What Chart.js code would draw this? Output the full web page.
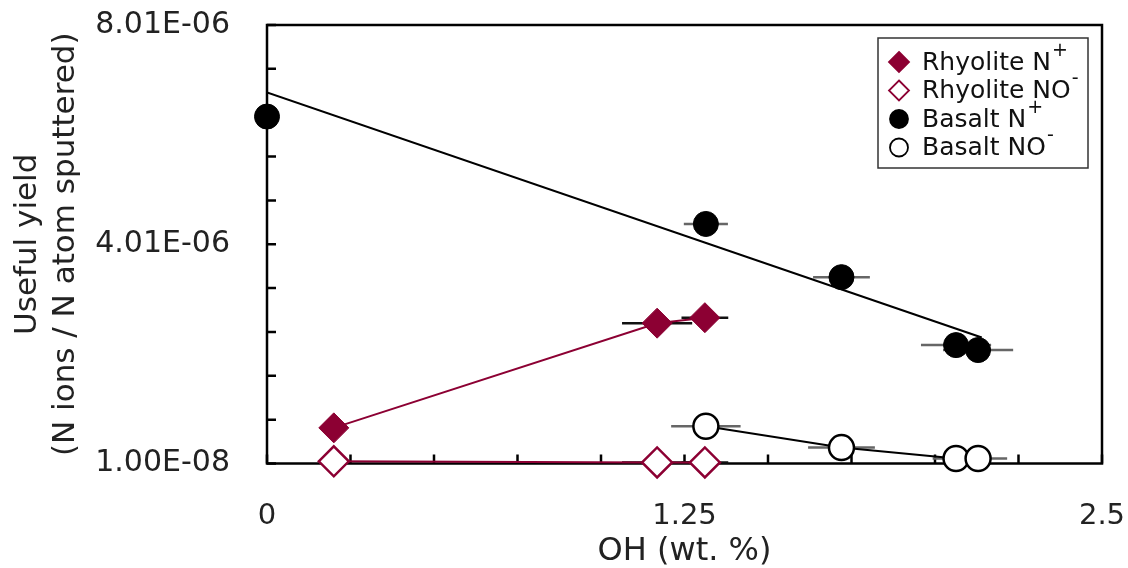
<!DOCTYPE html>
<html>
<head>
<meta charset="utf-8">
<script src="https://cdn.jsdelivr.net/npm/chart.js@4"></script>
<style>
  html, body { margin: 0; padding: 0; background: #fff; }
  #wrap { width: 1128px; height: 568px; }
</style>
</head>
<body>
<div id="wrap"><canvas id="chart"></canvas></div>
<script>
// OH (wt. %) and useful yield
const rhyoliteX = [0.2, 1.168, 1.311];
const rhyoliteXErr = [0, 0.105, 0.07];
const rhyoliteNplus = [0.66e-6, 2.57e-6, 2.67e-6];
const rhyoliteNOminus = [0.05e-6, 0.03e-6, 0.03e-6];

const basaltNplusX = [0, 1.314, 1.72, 2.063, 2.129];
const basaltNplusXErr = [0, 0.066, 0.085, 0.105, 0.105];
const basaltNplus = [6.34e-6, 4.38e-6, 3.41e-6, 2.17e-6, 2.08e-6];

const basaltNOminusX = [1.314, 1.72, 2.063, 2.129];
const basaltNOminusXErr = [0.104, 0.1, 0.07, 0.087];
const basaltNOminus = [0.69e-6, 0.30e-6, 0.10e-6, 0.10e-6];

// linear fit through basalt N+
const trendX = [0, 2.14];
const trendY = [6.78e-6, 2.31e-6];

const xTickValues = [0, 0.25, 0.5, 0.75, 1, 1.25, 1.5, 1.75, 2, 2.25, 2.5];
const xTickLabels = ["0", "", "", "", "", "1.25", "", "", "", "", "2.5"];
const yMin = 1e-8;
const yMax = 8.01e-6;
const yStep = 8e-7;
const yTickLabels = ["1.00E-08", "", "", "", "", "4.01E-06", "", "", "", "", "8.01E-06"];

const maroon = "#8c0033";
const FONT = "'DejaVu Sans', Verdana, sans-serif";

const pts = (xs, ys) => xs.map((x, i) => ({ x: x, y: ys[i] }));

// frame + inward tick marks
const framePlugin = {
  id: "frame",
  beforeDatasetsDraw(chart) {
    const { ctx, chartArea: a, scales } = chart;
    ctx.save();
    ctx.strokeStyle = "#000";
    ctx.lineWidth = 2.5;
    ctx.strokeRect(a.left, a.top, a.right - a.left, a.bottom - a.top);
    ctx.beginPath();
    scales.x.ticks.forEach(t => {
      const px = scales.x.getPixelForValue(t.value);
      ctx.moveTo(px, a.bottom);
      ctx.lineTo(px, a.bottom - 9);
    });
    scales.y.ticks.forEach(t => {
      const py = scales.y.getPixelForValue(t.value);
      ctx.moveTo(a.left, py);
      ctx.lineTo(a.left + 9, py);
    });
    ctx.stroke();
    ctx.restore();
  }
};

// horizontal error bars
const errorBarPlugin = {
  id: "errorBars",
  beforeDatasetsDraw(chart) {
    const { ctx, scales } = chart;
    ctx.save();
    chart.data.datasets.forEach(ds => {
      if (!ds.xErr) return;
      ctx.strokeStyle = ds.errColor;
      ctx.lineWidth = 2.5;
      ds.data.forEach((p, i) => {
        const e = ds.xErr[i];
        if (!e) return;
        const py = scales.y.getPixelForValue(p.y);
        ctx.beginPath();
        ctx.moveTo(scales.x.getPixelForValue(p.x - e), py);
        ctx.lineTo(scales.x.getPixelForValue(p.x + e), py);
        ctx.stroke();
      });
    });
    ctx.restore();
  }
};

const legendItems = [
  { text: "Rhyolite N", sup: "+", shape: "diamond", fill: maroon, stroke: maroon },
  { text: "Rhyolite NO", sup: "-", shape: "diamond", fill: "#fff", stroke: maroon },
  { text: "Basalt N", sup: "+", shape: "circle", fill: "#000", stroke: "#000" },
  { text: "Basalt NO", sup: "-", shape: "circle", fill: "#fff", stroke: "#000" }
];

const legendPlugin = {
  id: "boxLegend",
  afterDraw(chart) {
    const { ctx, chartArea: a } = chart;
    const bx = a.right - 224, by = a.top + 13, bw = 210, bh = 130;
    ctx.save();
    ctx.fillStyle = "#fff";
    ctx.fillRect(bx, by, bw, bh);
    ctx.strokeStyle = "#333";
    ctx.lineWidth = 1.5;
    ctx.strokeRect(bx, by, bw, bh);
    legendItems.forEach((it, i) => {
      const cy = by + 24 + i * 28.5;
      const mx = bx + 21;
      ctx.beginPath();
      if (it.shape === "diamond") {
        ctx.moveTo(mx, cy - 10);
        ctx.lineTo(mx + 10, cy);
        ctx.lineTo(mx, cy + 10);
        ctx.lineTo(mx - 10, cy);
        ctx.closePath();
      } else {
        ctx.arc(mx, cy, 9, 0, Math.PI * 2);
      }
      ctx.fillStyle = it.fill;
      ctx.fill();
      ctx.strokeStyle = it.stroke;
      ctx.lineWidth = 1.8;
      ctx.stroke();

      ctx.fillStyle = "#111";
      ctx.textBaseline = "middle";
      ctx.textAlign = "left";
      ctx.font = "25px " + FONT;
      ctx.fillText(it.text, bx + 44, cy + 1);
      const w = ctx.measureText(it.text).width;
      ctx.font = "19px " + FONT;
      ctx.fillText(it.sup, bx + 44 + w + 1, cy - 11);
    });
    ctx.restore();
  }
};

new Chart(document.getElementById("chart"), {
  type: "scatter",
  data: {
    datasets: [
      {
        label: "Rhyolite N+",
        data: pts(rhyoliteX, rhyoliteNplus),
        xErr: rhyoliteXErr,
        errColor: "#111",
        showLine: true,
        borderColor: maroon,
        borderWidth: 2,
        pointStyle: "rectRot",
        pointRadius: 15,
        pointBackgroundColor: maroon,
        pointBorderColor: maroon,
        pointBorderWidth: 1,
        clip: false
      },
      {
        label: "Rhyolite NO-",
        data: pts(rhyoliteX, rhyoliteNOminus),
        xErr: rhyoliteXErr,
        errColor: "#111",
        showLine: true,
        borderColor: maroon,
        borderWidth: 2,
        pointStyle: "rectRot",
        pointRadius: 15,
        pointBackgroundColor: "#fff",
        pointBorderColor: maroon,
        pointBorderWidth: 2.5,
        clip: false
      },
      {
        label: "Basalt N+",
        data: pts(basaltNplusX, basaltNplus),
        xErr: basaltNplusXErr,
        errColor: "#666",
        showLine: false,
        pointStyle: "circle",
        pointRadius: 12.5,
        pointBackgroundColor: "#000",
        pointBorderColor: "#000",
        pointBorderWidth: 1,
        clip: false
      },
      {
        label: "Basalt NO-",
        data: pts(basaltNOminusX, basaltNOminus),
        xErr: basaltNOminusXErr,
        errColor: "#666",
        showLine: true,
        borderColor: "#000",
        borderWidth: 2,
        pointStyle: "circle",
        pointRadius: 12.5,
        pointBackgroundColor: "#fff",
        pointBorderColor: "#000",
        pointBorderWidth: 2.5,
        clip: false
      },
      {
        label: "fit",
        data: pts(trendX, trendY),
        showLine: true,
        borderColor: "#000",
        borderWidth: 2.2,
        pointRadius: 0,
        order: 5
      }
    ]
  },
  options: {
    responsive: true,
    maintainAspectRatio: false,
    animation: false,
    layout: { padding: { left: 0, top: 25, right: 26, bottom: 0 } },
    plugins: {
      legend: { display: false },
      tooltip: { enabled: false }
    },
    scales: {
      x: {
        type: "linear",
        min: 0,
        max: 2.5,
        grid: { display: false, drawTicks: true, tickLength: 36 },
        border: { display: false },
        afterBuildTicks: s => { s.ticks = xTickValues.map(v => ({ value: v })); },
        afterFit: s => { s.height = 104.5; },
        ticks: {
          autoSkip: false,
          maxRotation: 0,
          padding: 0,
          color: "#222",
          font: { family: FONT, size: 29 },
          callback: (v, i) => xTickLabels[i]
        },
        title: {
          display: true,
          text: "OH (wt. %)",
          color: "#222",
          font: { family: FONT, size: 32, lineHeight: 1.0 },
          padding: { top: 0, bottom: 0 }
        }
      },
      y: {
        type: "linear",
        min: yMin,
        max: yMax,
        grid: { display: false, drawTicks: true, tickLength: 37 },
        border: { display: false },
        afterBuildTicks: s => {
          s.ticks = yTickLabels.map((l, k) => ({ value: yMin + k * yStep }));
        },
        afterFit: s => { s.width = 267; },
        ticks: {
          autoSkip: false,
          padding: 0,
          color: "#222",
          font: { family: FONT, size: 30 },
          callback: (v, i) => yTickLabels[i]
        },
        title: {
          display: true,
          text: ["Useful yield", "(N ions / N atom sputtered)"],
          color: "#222",
          font: { family: FONT, size: 31, lineHeight: 1.226 },
          padding: { top: 9, bottom: 0 }
        }
      }
    }
  },
  plugins: [framePlugin, errorBarPlugin, legendPlugin]
});
</script>
</body>
</html>
